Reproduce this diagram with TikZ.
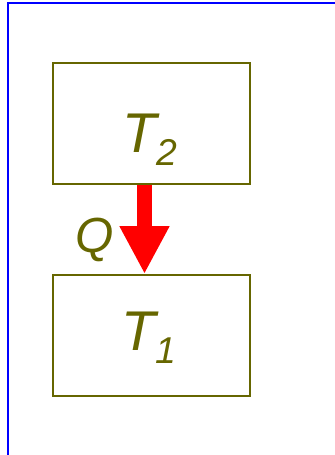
\documentclass[tikz,border=0pt]{standalone}
\usepackage{fontspec}
\setmainfont{Liberation Sans}
\usetikzlibrary{positioning,arrows.meta}
\definecolor{olivetxt}{RGB}{102,102,0}
\newcommand{\tsub}[2]{\itshape #1\raisebox{-9.75pt}{\fontsize{28}{28}\selectfont #2}}

\begin{document}
\begin{tikzpicture}[x=0.75pt,y=-0.75pt,>={Triangle[length=36pt,width=35pt]},
  tank/.style={draw=olivetxt,line width=1.5pt,minimum width=147.75pt,minimum height=90.75pt,inner sep=0pt},
  lbl/.style={text=olivetxt,font=\fontsize{42}{42}\selectfont,inner sep=0pt,anchor=base},
  heat/.style={->,draw=red,line width=11.25pt}]
\useasboundingbox (0,0) rectangle (335,455);
\draw[blue,line width=1.5pt] (335,3) -- (8,3) -- (8,455);
\node[tank] (hot) at (151.5,123.5) {};
\node[tank] (cold) at (151.5,335.5) {};
\node[lbl] (t2) at (150,152) {\tsub{T}{2}};
\node[lbl] (t1) at (148.5,350) {\tsub{T}{1}};
\coordinate (ax) at (144.5,0);
\draw[heat] (hot.south -| ax) -- (cold.north -| ax);
\node[lbl,font=\fontsize{37}{37}\selectfont\itshape] (q) at (95,252) {Q};
\end{tikzpicture}
\end{document}
